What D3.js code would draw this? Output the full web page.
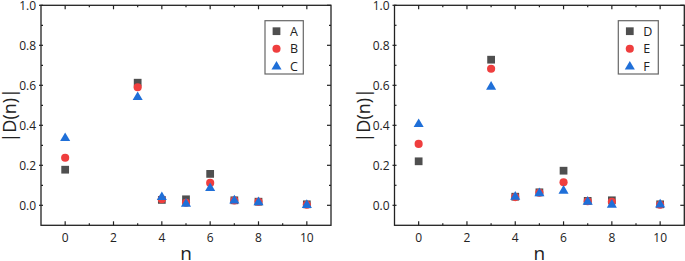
<!DOCTYPE html>
<html><head><meta charset="utf-8">
<script src="https://cdn.jsdelivr.net/npm/d3@7"></script>
<style>body{margin:0;background:#fff}svg{display:block}text{font-family:"Open Sans",sans-serif;fill:#222}</style>
</head><body><svg id="c" width="685" height="261"></svg>
<script>
const nValues = [0, 3, 4, 5, 6, 7, 8, 10];
const seriesA = [0.178, 0.613, 0.027, 0.030, 0.157, 0.025, 0.018, 0.005];
const seriesB = [0.238, 0.590, 0.030, 0.013, 0.112, 0.024, 0.018, 0.003];
const seriesC = [0.338, 0.543, 0.043, 0.010, 0.088, 0.026, 0.017, 0.004];
const seriesD = [0.220, 0.728, 0.043, 0.065, 0.173, 0.022, 0.025, 0.005];
const seriesE = [0.307, 0.683, 0.041, 0.063, 0.115, 0.020, 0.018, 0.003];
const seriesF = [0.408, 0.595, 0.045, 0.062, 0.075, 0.020, 0.005, 0.006];
const xTicks = [0, 2, 4, 6, 8, 10];
const yTicks = [0.0, 0.2, 0.4, 0.6, 0.8, 1.0];
const xLabel = "n";
const yLabel = "|D(n)|";

const colors = {sq: "#4f4f4f", ci: "#ef3e3e", tr: "#1f6fd8"};
const svg = d3.select("#c");

function panel(x0, x1, names, data) {
  const y0 = 5.3, y1 = 225.3;
  const x = d3.scaleLinear().domain([-1, 11]).range([x0, x1]);
  const y = d3.scaleLinear().domain([-0.1, 1.0]).range([y1, y0]);
  const g = svg.append("g");
  // frame
  g.append("rect").attr("x", x0).attr("y", y0).attr("width", x1 - x0).attr("height", y1 - y0)
    .attr("fill", "none").attr("stroke", "#222").attr("stroke-width", 1.3);
  const minorX = d3.range(-1, 12, 1).filter(v => v % 2 !== 0 && v > -1 && v < 11);
  const minorY = [-0.0, 0.1, 0.3, 0.5, 0.7, 0.9].slice(1);
  const tk = g.append("g").attr("stroke", "#222").attr("stroke-width", 1.2);
  xTicks.forEach(v => {
    tk.append("line").attr("x1", x(v)).attr("x2", x(v)).attr("y1", y1).attr("y2", y1 - 4);
    tk.append("line").attr("x1", x(v)).attr("x2", x(v)).attr("y1", y0).attr("y2", y0 + 4);
  });
  minorX.forEach(v => {
    tk.append("line").attr("x1", x(v)).attr("x2", x(v)).attr("y1", y1).attr("y2", y1 - 2);
    tk.append("line").attr("x1", x(v)).attr("x2", x(v)).attr("y1", y0).attr("y2", y0 + 2);
  });
  yTicks.forEach(v => {
    tk.append("line").attr("x1", x0 - 2).attr("x2", x0 + 2).attr("y1", y(v)).attr("y2", y(v));
    tk.append("line").attr("x1", x1).attr("x2", x1 - 4).attr("y1", y(v)).attr("y2", y(v));
  });
  minorY.forEach(v => {
    tk.append("line").attr("x1", x0).attr("x2", x0 + 2).attr("y1", y(v)).attr("y2", y(v));
    tk.append("line").attr("x1", x1).attr("x2", x1 - 2).attr("y1", y(v)).attr("y2", y(v));
  });
  // tick labels
  xTicks.forEach(v => g.append("text").attr("x", x(v)).attr("y", 241.5).attr("text-anchor", "middle")
    .attr("font-size", 12).text(v));
  yTicks.forEach(v => g.append("text").attr("x", x0 - 5).attr("y", y(v) + 4.3).attr("text-anchor", "end")
    .attr("font-size", 12).text(d3.format(".1f")(v)));
  g.append("text").attr("x", (x0 + x1) / 2).attr("y", 260).attr("text-anchor", "middle")
    .attr("font-size", 19).text(xLabel);
  g.append("text").attr("transform", `translate(${x0 - 25},${(y0 + y1) / 2}) rotate(-90)`)
    .attr("text-anchor", "middle").attr("font-size", 18).text(yLabel);
  // markers
  const shapes = [
    {sym: d3.symbolSquare, size: 60, c: colors.sq, dy: 0},
    {sym: d3.symbolCircle, size: 52, c: colors.ci, dy: 0},
    {sym: d3.symbolTriangle, size: 44, c: colors.tr, dy: 0.5}
  ];
  data.forEach((vals, i) => {
    const s = shapes[i];
    g.append("g").selectAll("path").data(vals).join("path")
      .attr("d", d3.symbol().type(s.sym).size(s.size))
      .attr("transform", (d, j) => `translate(${x(nValues[j])},${y(d) + s.dy})`)
      .attr("fill", s.c);
  });
  // legend
  const lx = x1 - 66, ly = 20.7, lw = x1 === 331 ? 38.3 : 40, lh = 53.3;
  const lg = g.append("g");
  lg.append("rect").attr("x", lx).attr("y", ly).attr("width", lw).attr("height", lh)
    .attr("fill", "#fff").attr("stroke", "#666").attr("stroke-width", 1.2);
  names.forEach((nm, i) => {
    const s = shapes[i];
    const cy = ly + 10.5 + i * 17.5;
    lg.append("path").attr("d", d3.symbol().type(s.sym).size(s.size))
      .attr("transform", `translate(${lx + 11.5},${cy + s.dy})`).attr("fill", s.c);
    lg.append("text").attr("x", lx + 25).attr("y", cy + 4.5).attr("font-size", 12.5).text(nm);
  });
}

panel(41, 331, ["A", "B", "C"], [seriesA, seriesB, seriesC]);
panel(394.5, 684.3, ["D", "E", "F"], [seriesD, seriesE, seriesF]);
</script></body></html>
